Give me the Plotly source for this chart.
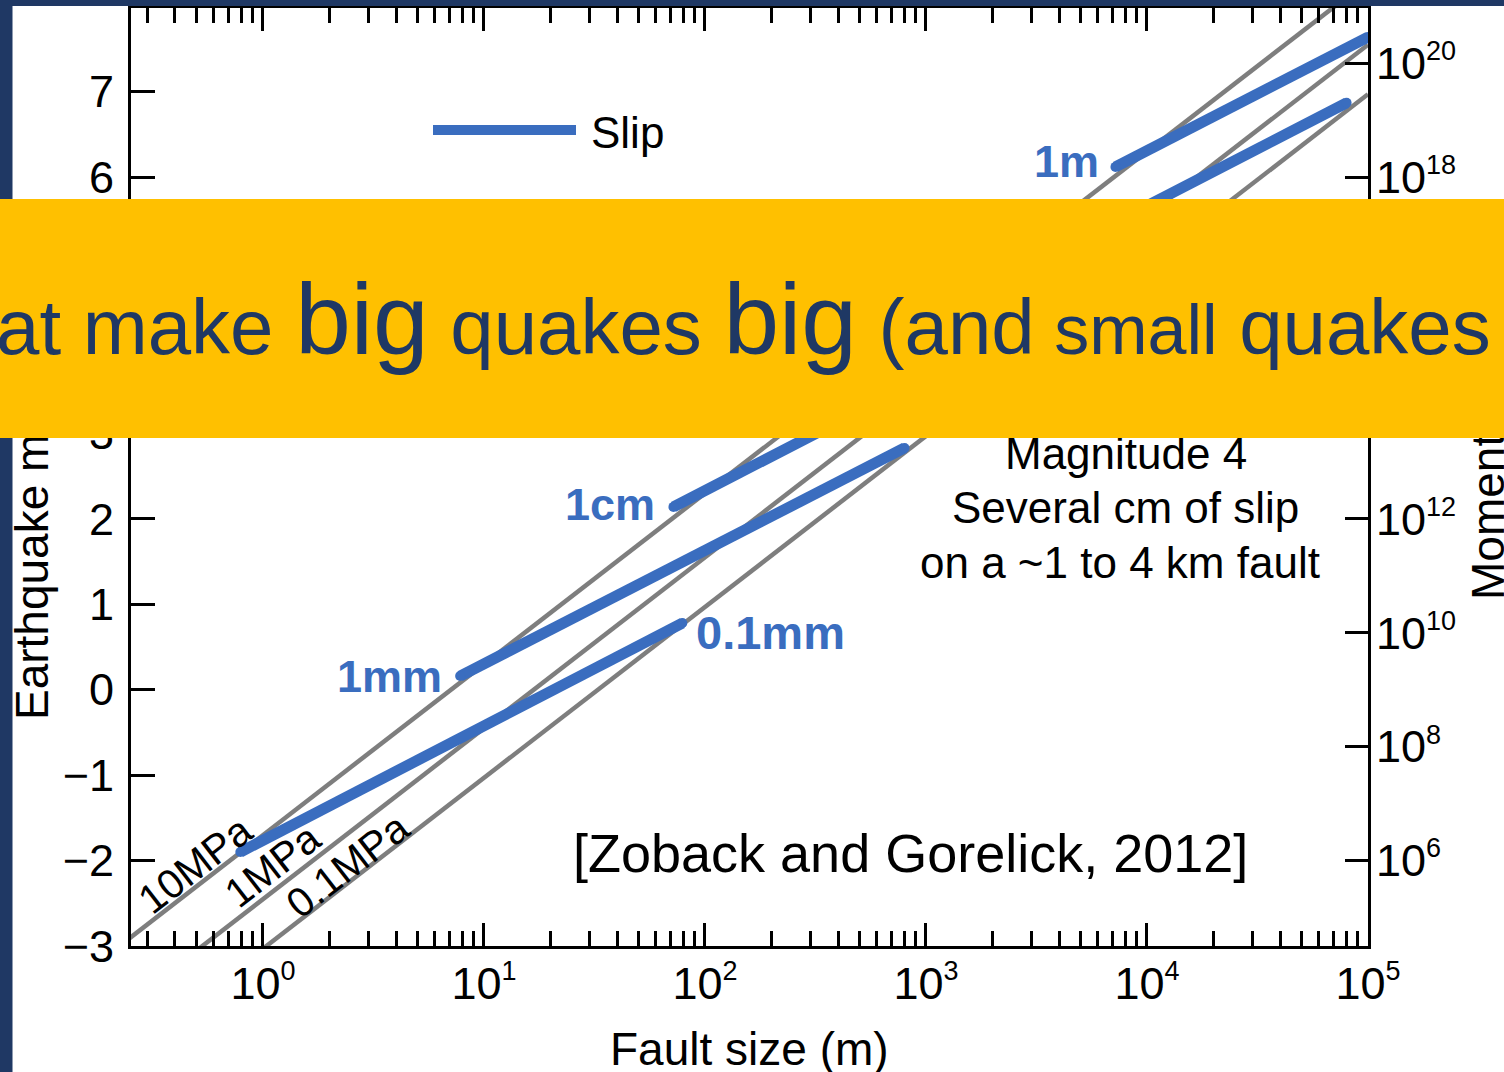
import numpy as np
import plotly.graph_objects as go

# ---------------- data ----------------
# Slip lines: fault size (m) and earthquake magnitude at both ends of each segment
slip_labels = ["0.1mm", "1mm", "1cm", "10cm", "1m"]
slip_size_start = [0.79, 7.8, 72, 800, 7200]
slip_size_end = [79, 800, 7200, 80000, 100000]
slip_mag_start = [-1.90, 0.16, 2.14, 4.20, 6.12]
slip_mag_end = [0.78, 2.83, 4.81, 6.87, 7.64]

# Stress-drop lines: fault size (m) and magnitude at both ends
stress_labels = ["10MPa", "1MPa", "0.1MPa"]
stress_size = [0.2, 100000]
stress_mag_start = [-3.10, -3.85, -4.43]
stress_mag_end = [8.30, 7.55, 6.97]

# Axis ticks
fault_ticks = [1, 10, 100, 1000, 10000, 100000]
fault_tick_exp = ["0", "1", "2", "3", "4", "5"]
fault_minor_ticks = [k * 10.0 ** n for n in range(-1, 5) for k in range(2, 10)]
mag_ticks = [-3, -2, -1, 0, 1, 2, 3, 4, 5, 6, 7]
moment_ticks = [1e6, 1e8, 1e10, 1e12, 1e14, 1e16, 1e18, 1e20]
moment_tick_exp = ["6", "8", "10", "12", "14", "16", "18", "20"]

mag_range = [-3, 7.98]
fault_range_log = [-0.597, 5.0]

# ---------------- styles ----------------
FONT = "Liberation Sans, Arial, Helvetica, sans-serif"
BLUE = "#3A6DBF"
GRAY = "#7E7E7E"
NAVY = "#1F3864"
YELLOW = "#FFC000"
TICK_SIZE = 45
SUP_SIZE = 27

W, H = 1504, 1072
ML, MR, MT, MB = 131, 136, 8, 126
PW, PH = W - ML - MR, H - MT - MB


def px(xp):
    return (xp - ML) / PW


def py(yp):
    return (H - MB - yp) / PH


def pow_label(e):
    return '10<sup><span style="font-size:%dpx">%s</span></sup>' % (SUP_SIZE, e)


fig = go.Figure()

for lab, m0, m1 in zip(stress_labels, stress_mag_start, stress_mag_end):
    fig.add_trace(go.Scatter(x=stress_size, y=[m0, m1], mode="lines",
                             line=dict(color=GRAY, width=4.5), name=lab,
                             showlegend=False, hoverinfo="skip"))

for lab, x0, x1, y0, y1 in zip(slip_labels, slip_size_start, slip_size_end,
                               slip_mag_start, slip_mag_end):
    fig.add_trace(go.Scatter(x=[x0, x1], y=[y0, y1], mode="lines+markers",
                             line=dict(color=BLUE, width=11),
                             marker=dict(color=BLUE, size=10, line=dict(width=0)),
                             name=lab, showlegend=False, hoverinfo="skip"))

# empty traces so the mirrored top axis and the moment axis are drawn
fig.add_trace(go.Scatter(x=[], y=[], xaxis="x2", yaxis="y", showlegend=False))
fig.add_trace(go.Scatter(x=[], y=[], xaxis="x", yaxis="y2", showlegend=False))

moment_range = [1.5 * mag_range[0] + 9, 1.5 * mag_range[1] + 9]

common_x = dict(type="log", range=fault_range_log, showgrid=False, zeroline=False,
                showline=True, linecolor="black", linewidth=3,
                ticks="inside", ticklen=23, tickwidth=3, tickcolor="black",
                tickvals=fault_ticks,
                minor=dict(tickvals=fault_minor_ticks, ticks="inside", ticklen=15,
                           tickwidth=3, tickcolor="black", showgrid=False))

fig.update_layout(
    width=W, height=H, autosize=False,
    margin=dict(l=ML, r=MR, t=MT, b=MB, pad=0),
    paper_bgcolor="white", plot_bgcolor="white",
    font=dict(family=FONT, color="black"),
    showlegend=False,
    xaxis=dict(**common_x, ticktext=[pow_label(e) for e in fault_tick_exp],
               tickfont=dict(size=TICK_SIZE, family=FONT, color="black"),
               ticklabelstandoff=-4),
    xaxis2=dict(**common_x, overlaying="x", side="top", anchor="y",
                showticklabels=False),
    yaxis=dict(range=mag_range, showgrid=False, zeroline=False,
               showline=True, linecolor="black", linewidth=3,
               ticks="inside", ticklen=24, tickwidth=3, tickcolor="black",
               tickvals=mag_ticks,
               tickfont=dict(size=TICK_SIZE, family=FONT, color="black"),
               ticklabelstandoff=5),
    yaxis2=dict(type="log", range=moment_range, overlaying="y", side="right",
                anchor="x", showgrid=False, zeroline=False,
                showline=True, linecolor="black", linewidth=3,
                ticks="inside", ticklen=23, tickwidth=3, tickcolor="black",
                tickvals=moment_ticks, ticktext=[pow_label(e) for e in moment_tick_exp],
                tickfont=dict(size=TICK_SIZE, family=FONT, color="black"),
                ticklabelstandoff=-4),
)

shapes = [
    # navy slide frame pieces
    dict(type="rect", xref="paper", yref="paper", x0=px(-5), x1=px(12.5),
         y0=py(H + 5), y1=py(-5), fillcolor=NAVY, line=dict(width=0), layer="above"),
    dict(type="rect", xref="paper", yref="paper", x0=px(-5), x1=px(W + 5),
         y0=py(6), y1=py(-5), fillcolor=NAVY, line=dict(width=0), layer="above"),
    # legend key
    dict(type="line", xref="paper", yref="paper", x0=px(433), x1=px(576),
         y0=py(130), y1=py(130), line=dict(color=BLUE, width=10), layer="above"),
]
fig.update_layout(shapes=shapes)

ann = []
lx = np.log10
LBL = dict(size=45, color=BLUE, family=FONT)
# slip labels
ann.append(dict(x=lx(slip_size_start[4]), y=slip_mag_start[4], xref="x", yref="y",
                text="<b>1m</b>", xanchor="right", yanchor="middle", xshift=-14, yshift=5,
                showarrow=False, font=LBL))
ann.append(dict(x=lx(slip_size_start[2]), y=slip_mag_start[2], xref="x", yref="y",
                text="<b>1cm</b>", xanchor="right", yanchor="middle", xshift=-16, yshift=2,
                showarrow=False, font=LBL))
ann.append(dict(x=lx(slip_size_start[1]), y=slip_mag_start[1], xref="x", yref="y",
                text="<b>1mm</b>", xanchor="right", yanchor="middle", xshift=-16, yshift=0,
                showarrow=False, font=LBL))
ann.append(dict(x=lx(slip_size_end[0]), y=slip_mag_end[0], xref="x", yref="y",
                text="<b>0.1mm</b>", xanchor="left", yanchor="middle", xshift=12, yshift=-9,
                showarrow=False, font=dict(size=47, color=BLUE, family=FONT)))

# stress drop labels
for lab, xp, yp in zip(stress_labels, [195, 272, 347], [865, 866, 866]):
    ann.append(dict(x=px(xp), y=py(yp), xref="paper", yref="paper", text=lab,
                    textangle=-37.7, showarrow=False, xanchor="center", yanchor="middle",
                    font=dict(size=41, color="black", family=FONT)))

# legend text
ann.append(dict(x=px(589), y=py(132), xref="paper", yref="paper", text="Slip",
                xanchor="left", yanchor="middle", showarrow=False,
                font=dict(size=44, color="black", family=FONT)))

# notes
ann.append(dict(x=px(1125), y=py(507), xref="paper", yref="paper", text="Several cm of slip",
                xanchor="center", yanchor="middle", showarrow=False,
                font=dict(size=44, color="black", family=FONT)))
ann.append(dict(x=px(1120), y=py(562), xref="paper", yref="paper", text="on a ~1 to 4 km fault",
                xanchor="center", yanchor="middle", showarrow=False,
                font=dict(size=44, color="black", family=FONT)))
ann.append(dict(x=px(910), y=py(853), xref="paper", yref="paper",
                text="[Zoback and Gorelick, 2012]",
                xanchor="center", yanchor="middle", showarrow=False,
                font=dict(size=54, color="black", family=FONT)))
ann.append(dict(x=px(749), y=py(1049), xref="paper", yref="paper", text="Fault size (m)",
                xanchor="center", yanchor="middle", showarrow=False,
                font=dict(size=46, color="black", family=FONT)))
ann.append(dict(x=px(1126), y=py(453), xref="paper", yref="paper", text="Magnitude 4",
                xanchor="center", yanchor="middle", showarrow=False,
                font=dict(size=44, color="black", family=FONT)))
# axis titles (partly hidden by the banner)
ann.append(dict(x=px(32), y=py(489), xref="paper", yref="paper", text="Earthquake magnitude",
                textangle=-90, xanchor="center", yanchor="middle", showarrow=False,
                font=dict(size=46, color="black", family=FONT)))
ann.append(dict(x=px(1488), y=py(453), xref="paper", yref="paper", text="Moment (N m)",
                textangle=-90, xanchor="center", yanchor="middle", showarrow=False,
                font=dict(size=46, color="black", family=FONT)))

# slide banner, drawn last so it covers what lies beneath
banner_text = ('at make <span style="font-size:100px">big</span> quakes '
               '<span style="font-size:100px">big</span> '
               '<span style="font-size:78px">(and</span>'
               '<span style="font-size:70px"> small</span> quakes')
ann.append(dict(x=px(-4), y=py(318.5), xref="paper", yref="paper", text=banner_text,
                xanchor="left", yanchor="middle", showarrow=False,
                width=1530, height=239, align="left", valign="middle",
                bgcolor=YELLOW, borderpad=0, borderwidth=0,
                font=dict(size=78, color=NAVY, family=FONT)))

fig.update_layout(annotations=ann)

fig.write_html("out.html", config={"displayModeBar": False},
               post_script="document.body.style.margin='0';document.body.style.overflow='hidden';")
